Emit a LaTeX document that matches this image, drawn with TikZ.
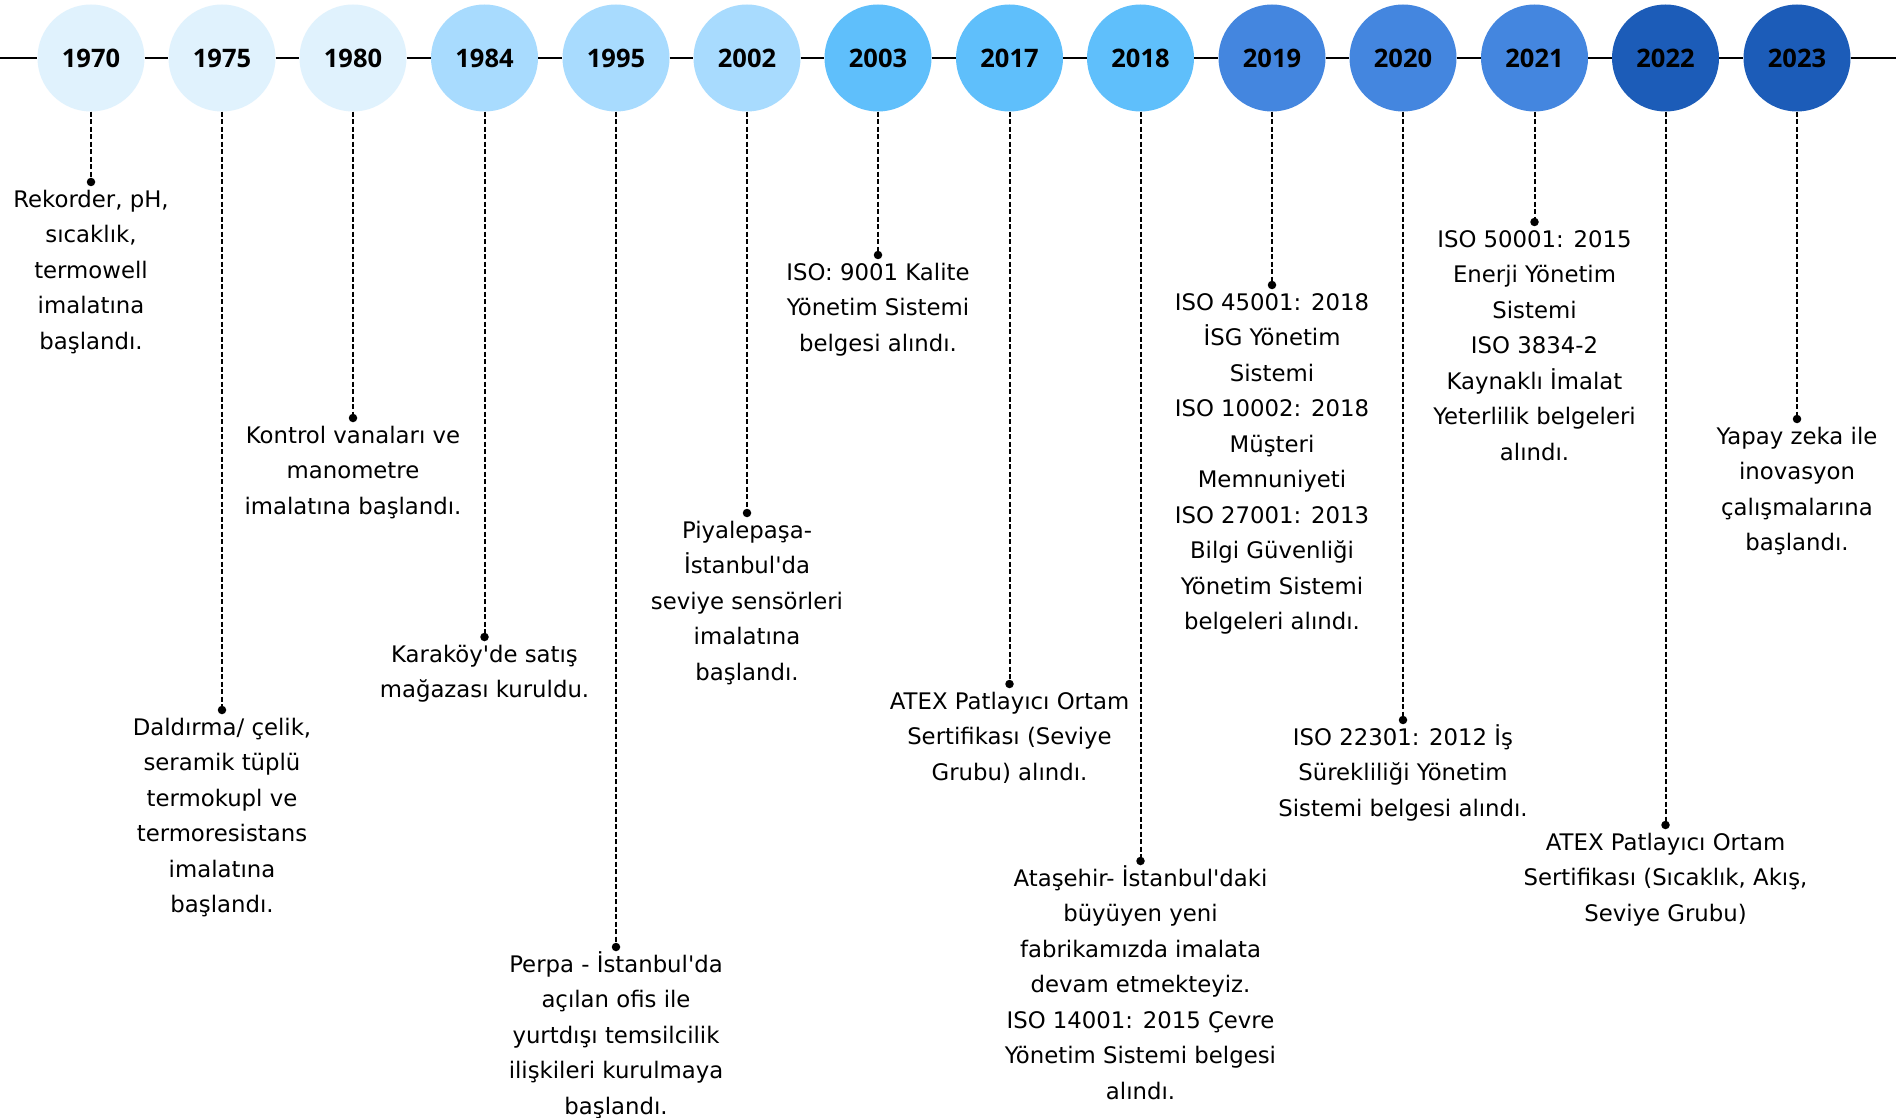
\documentclass[tikz,border=0pt]{standalone}
\usepackage{fontspec}
\setmainfont{Open Sans}
\newfontfamily\descfont{DejaVu Sans}
\newcommand\apos{{\char"27}}
\definecolor{cA}{HTML}{E0F2FD}
\definecolor{cB}{HTML}{A8DBFE}
\definecolor{cC}{HTML}{5FBFFB}
\definecolor{cD}{HTML}{4486DF}
\definecolor{cE}{HTML}{1C5CB8}
\tikzset{
  yearnode/.style={circle, minimum size=107pt, inner sep=0pt, font=\fontsize{25.5}{29}\selectfont\bfseries, text=black},
  lead/.style={line width=2pt, dash pattern=on 5pt off 2.5pt},
  axis/.style={line width=1.8pt},
  desc/.style={anchor=north, inner sep=0pt, align=center, font=\descfont\fontsize{22.8}{35.5}\selectfont, text=black},
  dotmark/.style={circle, fill=black, inner sep=0pt, minimum size=8.5pt}
}
\begin{document}
\begin{tikzpicture}[x=1pt,y=-1pt]
\useasboundingbox (0,0) rectangle (1896,1118);
\fill[white] (0,0) rectangle (1896,1118);
% year nodes
\node[yearnode, fill=cA] (y1970) at (91,58) {1970};
\node[yearnode, fill=cA] (y1975) at (222,58) {1975};
\node[yearnode, fill=cA] (y1980) at (353,58) {1980};
\node[yearnode, fill=cB] (y1984) at (484.5,58) {1984};
\node[yearnode, fill=cB] (y1995) at (616,58) {1995};
\node[yearnode, fill=cB] (y2002) at (747,58) {2002};
\node[yearnode, fill=cC] (y2003) at (878,58) {2003};
\node[yearnode, fill=cC] (y2017) at (1009.5,58) {2017};
\node[yearnode, fill=cC] (y2018) at (1140.5,58) {2018};
\node[yearnode, fill=cD] (y2019) at (1272,58) {2019};
\node[yearnode, fill=cD] (y2020) at (1403,58) {2020};
\node[yearnode, fill=cD] (y2021) at (1534.5,58) {2021};
\node[yearnode, fill=cE] (y2022) at (1665.5,58) {2022};
\node[yearnode, fill=cE] (y2023) at (1797,58) {2023};
% axis
\coordinate (axL) at (0,58);
\coordinate (axR) at (1896,58);
\draw[axis] (axL) -- (y1970) (y1970) -- (y1975) (y1975) -- (y1980) (y1980) -- (y1984)
  (y1984) -- (y1995) (y1995) -- (y2002) (y2002) -- (y2003) (y2003) -- (y2017)
  (y2017) -- (y2018) (y2018) -- (y2019) (y2019) -- (y2020) (y2020) -- (y2021)
  (y2021) -- (y2022) (y2022) -- (y2023) (y2023) -- (axR);
% dots
\node[dotmark] (d1970) at (y1970 |- 0,182) {};
\node[dotmark] (d1975) at (y1975 |- 0,710) {};
\node[dotmark] (d1980) at (y1980 |- 0,418) {};
\node[dotmark] (d1984) at (y1984 |- 0,637) {};
\node[dotmark] (d1995) at (y1995 |- 0,947) {};
\node[dotmark] (d2002) at (y2002 |- 0,513) {};
\node[dotmark] (d2003) at (y2003 |- 0,255) {};
\node[dotmark] (d2017) at (y2017 |- 0,684) {};
\node[dotmark] (d2018) at (y2018 |- 0,861) {};
\node[dotmark] (d2019) at (y2019 |- 0,285) {};
\node[dotmark] (d2020) at (y2020 |- 0,720) {};
\node[dotmark] (d2021) at (y2021 |- 0,222) {};
\node[dotmark] (d2022) at (y2022 |- 0,825) {};
\node[dotmark] (d2023) at (y2023 |- 0,419) {};
% leaders
\foreach \yr in {1970,1975,1980,1984,1995,2002,2003,2017,2018,2019,2020,2021,2022,2023}
  \draw[lead] (y\yr.south) -- (d\yr.center);
% descriptions
\node[desc] (t1970) at (d1970.center) {\strut Rekorder, pH,\\ sıcaklık,\\ termowell\\ imalatına\\ başlandı.};
\node[desc] (t1975) at (d1975.center) {\strut Daldırma/ çelik,\\ seramik tüplü\\ termokupl ve\\ termoresistans\\ imalatına\\ başlandı.};
\node[desc] (t1980) at (d1980.center) {\strut Kontrol vanaları ve\\ manometre\\ imalatına başlandı.};
\node[desc] (t1984) at (d1984.center) {\strut Karaköy\apos de satış\\ mağazası kuruldu.};
\node[desc] (t1995) at (d1995.center) {\strut Perpa - İstanbul\apos da\\ açılan ofis ile\\ yurtdışı temsilcilik\\ ilişkileri kurulmaya\\ başlandı.};
\node[desc] (t2002) at (d2002.center) {\strut Piyalepaşa-\\ İstanbul\apos da\\ seviye sensörleri\\ imalatına\\ başlandı.};
\node[desc] (t2003) at (d2003.center) {\strut ISO: 9001 Kalite\\ Yönetim Sistemi\\ belgesi alındı.};
\node[desc] (t2017) at (d2017.center) {\strut ATEX Patlayıcı Ortam\\ Sertifikası (Seviye\\ Grubu) alındı.};
\node[desc] (t2018) at (d2018.center) {\strut Ataşehir- İstanbul\apos daki\\ büyüyen yeni\\ fabrikamızda imalata\\ devam etmekteyiz.\\ ISO 14001: 2015 Çevre\\ Yönetim Sistemi belgesi\\ alındı.};
\node[desc] (t2019) at (d2019.center) {\strut ISO 45001: 2018\\ İSG Yönetim\\ Sistemi\\ ISO 10002: 2018\\ Müşteri\\ Memnuniyeti\\ ISO 27001: 2013\\ Bilgi Güvenliği\\ Yönetim Sistemi\\ belgeleri alındı.};
\node[desc] (t2020) at (d2020.center) {\strut ISO 22301: 2012 İş\\ Sürekliliği Yönetim\\ Sistemi belgesi alındı.};
\node[desc] (t2021) at (d2021.center) {\strut ISO 50001: 2015\\ Enerji Yönetim\\ Sistemi\\ ISO 3834-2\\ Kaynaklı İmalat\\ Yeterlilik belgeleri\\ alındı.};
\node[desc] (t2022) at (d2022.center) {\strut ATEX Patlayıcı Ortam\\ Sertifikası (Sıcaklık, Akış,\\ Seviye Grubu)};
\node[desc] (t2023) at (d2023.center) {\strut Yapay zeka ile\\ inovasyon\\ çalışmalarına\\ başlandı.};
\end{tikzpicture}
\end{document}
